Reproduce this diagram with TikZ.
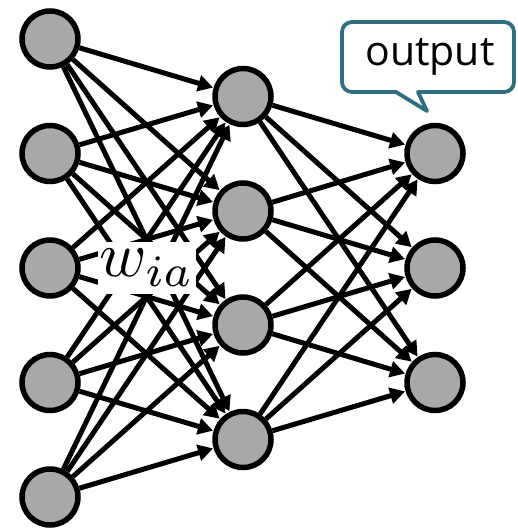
\documentclass[tikz,border=0pt]{standalone}
\usepackage{fontspec}
\setsansfont{Open Sans}
\usetikzlibrary{arrows.meta}
\definecolor{bubble}{HTML}{2E6E80}
\definecolor{unit}{HTML}{A8A8A8}
\begin{document}
\begin{tikzpicture}[x=1pt,y=-1pt,
  neuron/.style={circle,draw=black,fill=unit,line width=5.5pt,minimum size=56pt,inner sep=0pt},
  link/.style={line width=5pt,-{Triangle[length=15pt,width=16pt]},shorten >=0.5pt},
  bubbleline/.style={draw=bubble,line width=3.8pt,fill=white,line join=round}]
\useasboundingbox (0,0) rectangle (517,529);
% input layer
\foreach \i/\y in {1/39,2/153.5,3/268,4/382.5,5/497}
  \node[neuron] (in\i) at (50,\y) {};
% hidden layer
\foreach \j/\y in {1/96.5,2/211,3/325,4/439.5}
  \node[neuron] (h\j) at (243,\y) {};
% output layer
\foreach \k/\y in {1/153.5,2/268,3/382.5}
  \node[neuron] (out\k) at (435,\y) {};
% fully connected weights
\foreach \i in {1,...,5}
  \foreach \j in {1,...,4}
    \draw[link] (in\i) -- (h\j);
\foreach \j in {1,...,4}
  \foreach \k in {1,...,3}
    \draw[link] (h\j) -- (out\k);
% weight label
\node[fill=white,scale=6.4,inner sep=0pt,minimum width=15.2pt,minimum height=8.1pt] (w) at (147,268) {$w_{ia}$};
% speech bubble for the output
\coordinate (tip) at (427,111);
\draw[bubbleline] (396,92) [rounded corners=10pt] -- (342,92) -- (342,22) -- (514,22) -- (514,92) [sharp corners] -- (418,92) -- (tip) -- cycle;
\node[font=\sffamily\fontsize{41}{45}\selectfont,inner sep=0pt] (out) at (430,57) {output};
\end{tikzpicture}
\end{document}
